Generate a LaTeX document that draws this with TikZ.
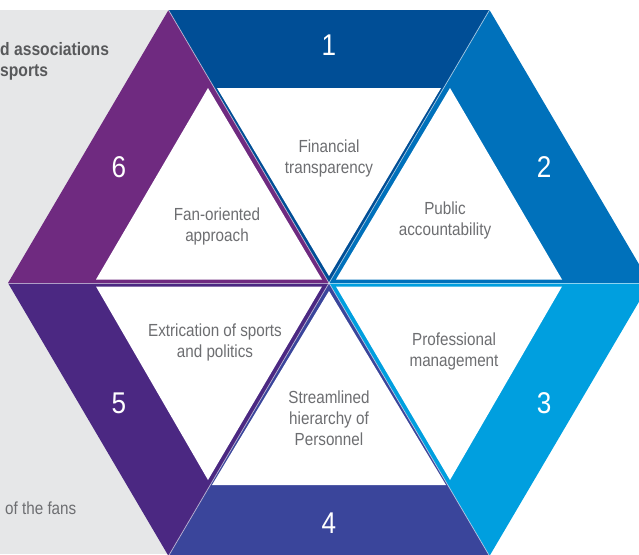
\documentclass[tikz,border=0pt]{standalone}
\usepackage{fontspec}
\setmainfont{Liberation Sans}[FakeStretch=0.87]
\usetikzlibrary{positioning}
\definecolor{segone}{HTML}{004E96}
\definecolor{segtwo}{HTML}{0071BB}
\definecolor{segthree}{HTML}{009FDF}
\definecolor{segfour}{HTML}{3A459B}
\definecolor{segfive}{HTML}{4B2882}
\definecolor{segsix}{HTML}{6F2A80}
\definecolor{bggrey}{HTML}{E6E7E8}
\definecolor{txtgrey}{HTML}{6D6E71}
\definecolor{darkgrey}{HTML}{58595B}

\begin{document}
\begin{tikzpicture}[
  x=1pt, y=-1pt,
  hole/.style={fill=white},
  seam/.style={draw=white, opacity=0.55, line width=0.8pt},
  num/.style={text=white, font=\fontsize{30}{30}\selectfont, inner sep=0pt},
  lbl/.style={text=txtgrey, align=center, font=\fontsize{17.5}{21}\selectfont, inner sep=0pt},
  side/.style={text=darkgrey, align=left, font=\fontsize{18}{21}\selectfont\bfseries, inner sep=0pt},
  fans/.style={text=txtgrey, font=\fontsize{17.5}{21}\selectfont, inner sep=0pt}
]
\useasboundingbox (0,0) rectangle (639,554);
\clip (0,0) rectangle (639,554);

\fill[bggrey] (0,10) rectangle (329,554);

\node[side, anchor=base west] (assoc) at (0,55) {d associations};
\node[side, anchor=base west] (sports) at (0,76) {sports};
\node[fans, anchor=base west] (fans) at (5,514) {of the fans};

\coordinate (c) at (329,283);
\coordinate (v0) at (650,283);
\coordinate (v60) at (489.5,10);
\coordinate (v120) at (168.5,10);
\coordinate (v180) at (8,283);
\coordinate (v240) at (168.5,556);
\coordinate (v300) at (489.5,556);

\fill[segone] (c) -- (v120) -- (v60) -- cycle;
\fill[segtwo] (c) -- (v60) -- (v0) -- cycle;
\fill[segthree] (c) -- (v0) -- (v300) -- cycle;
\fill[segfour] (c) -- (v300) -- (v240) -- cycle;
\fill[segfive] (c) -- (v240) -- (v180) -- cycle;
\fill[segsix] (c) -- (v180) -- (v120) -- cycle;

\fill[hole] (329,276) -- (217,88) -- (441,88) -- cycle;
\fill[hole] (336,279.5) -- (450,88) -- (562,279.5) -- cycle;
\fill[hole] (336,286.5) -- (562,286.5) -- (450,480) -- cycle;
\fill[hole] (329,291) -- (446,485) -- (212,485) -- cycle;
\fill[hole] (322,286.5) -- (208,480) -- (96,286.5) -- cycle;
\fill[hole] (322,279.5) -- (96,279.5) -- (208,88) -- cycle;

\draw[seam] (c) -- (v0);
\draw[seam] (c) -- (v60);
\draw[seam] (c) -- (v120);
\draw[seam] (c) -- (v180);
\draw[seam] (c) -- (v240);
\draw[seam] (c) -- (v300);

\node[num] (n1) at (329,45) {1};
\node[num] (n2) at (544,167) {2};
\node[num] (n3) at (544,403) {3};
\node[num] (n4) at (329,523) {4};
\node[num] (n5) at (119,403) {5};
\node[num] (n6) at (119,167) {6};

\node[lbl] (finance) at (329,158) {Financial\\transparency};
\node[lbl] (public) at (445,220) {Public\\accountability};
\node[lbl] (profmgmt) at (454,351) {Professional\\management};
\node[lbl] (hierarchy) at (329,418) {Streamlined\\hierarchy of\\Personnel};
\node[lbl] (politics) at (215,342) {Extrication of sports\\and politics};
\node[lbl] (fanapp) at (217,226) {Fan-oriented\\approach};
\end{tikzpicture}
\end{document}
